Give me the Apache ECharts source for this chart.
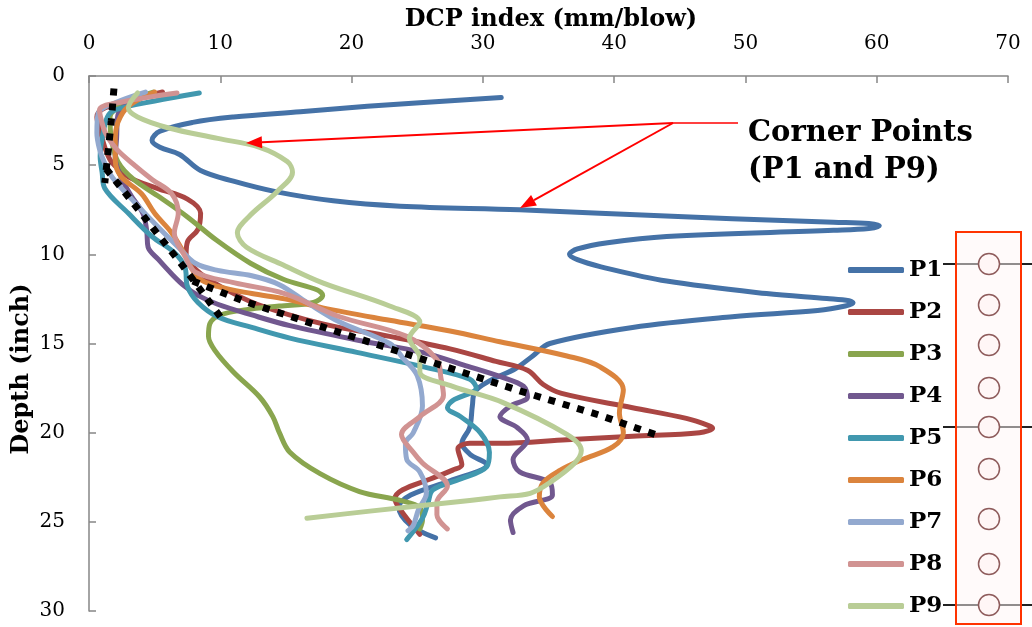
<!DOCTYPE html>
<html><head><meta charset="utf-8">
<script src="https://cdn.jsdelivr.net/npm/echarts@6/dist/echarts.min.js"></script>
<style>html,body{margin:0;padding:0;background:#fff}#c{width:1032px;height:627px}</style>
</head><body><div id="c"></div>
<script>
// ---- data: [DCP index (mm/blow), depth (inch)] ----
const P1 = [[31.4,1.2],[21.2,1.7],[16.1,2.0],[11.0,2.3],[7.9,2.6],[5.4,3.1],[4.8,3.6],[5.4,4.0],[6.9,4.4],[8.5,5.3],[11.0,5.9],[14.3,6.5],[18.6,7.0],[23.7,7.3],[32.8,7.5],[38.9,7.7],[49,8.0],[56.7,8.2],[59.4,8.27],[60.2,8.4],[59.4,8.55],[56.7,8.65],[44,9.0],[39.5,9.35],[37.2,9.7],[36.6,10.0],[37.2,10.3],[39,10.7],[44,11.5],[51.6,12.2],[56.2,12.48],[57.9,12.6],[58.2,12.72],[57.6,12.9],[55.5,13.15],[49,13.5],[41.4,14.1],[35.1,15.0],[33.8,15.7],[32.5,16.4],[30.5,17.1],[29.4,17.7],[29.2,18.5],[29.0,19.7],[28.4,20.6],[29.0,21.2],[30.3,21.8],[27.5,22.7],[24.5,23.5],[23.6,24.2],[24.5,25.2],[26.4,25.9]];
const P2 = [[5.6,0.9],[3.5,1.3],[1.2,1.8],[0.6,2.3],[0.9,3.2],[1.3,4.2],[1.8,4.9],[3.1,5.7],[5.2,6.3],[7.5,6.9],[8.5,7.7],[8.3,8.6],[7.5,9.3],[7.4,10.0],[8.2,10.9],[10.0,11.8],[12.8,12.8],[17.8,13.9],[22.9,14.6],[27.5,15.3],[31.0,16.0],[33.4,16.5],[34.6,17.3],[36.0,17.8],[41.4,18.6],[45.5,19.2],[47.2,19.6],[47.5,19.75],[46.5,20.0],[41.4,20.2],[36.4,20.4],[31.3,20.6],[29.0,20.6],[28.1,20.9],[28.4,21.8],[27.7,22.1],[26.0,22.6],[23.9,23.2],[23.3,23.7],[23.7,24.3],[25.2,25.7]];
const P3 = [[4.9,0.9],[2.8,1.5],[1.6,2.3],[1.7,3.5],[2.2,4.8],[3.4,5.8],[5.4,6.8],[7.5,7.9],[9.7,9.2],[12.3,10.5],[14.8,11.4],[17.4,12.0],[17.8,12.3],[17.1,12.7],[14.5,12.9],[12.0,13.1],[10.0,13.4],[9.2,13.9],[9.1,14.6],[9.6,15.4],[11.0,16.6],[13.0,18.0],[14.0,19.1],[14.5,20.0],[15.3,21.1],[17.6,22.3],[20.6,23.3],[23.7,23.8],[25.2,24.2],[25.4,24.9],[25.2,25.4]];
const P4 = [[4.3,1.0],[3.0,1.5],[2.2,2.2],[2.1,3.5],[2.0,4.6],[2.4,5.6],[3.2,6.7],[4.1,7.7],[4.4,8.7],[4.5,9.6],[5.3,10.3],[6.3,11.1],[7.3,11.8],[8.3,12.3],[9.8,12.8],[12.4,13.4],[15.3,14.0],[20.4,14.8],[25.4,15.5],[28.5,16.2],[31.5,16.9],[33.1,17.4],[33.4,18.0],[32.1,18.5],[31.3,19.1],[32.6,19.7],[33.4,20.4],[32.3,21.5],[32.8,22.2],[35.1,22.8],[35.3,23.5],[33.1,24.1],[32.1,24.9],[32.3,25.6]];
const P5 = [[8.4,0.95],[5.0,1.4],[2.0,1.9],[1.4,2.3],[1.0,3.5],[0.85,4.5],[1.0,5.4],[1.2,6.3],[3.0,7.7],[4.8,9.0],[6.5,9.9],[7.3,10.7],[7.5,11.8],[8.3,12.7],[9.8,13.5],[12.4,14.1],[15.3,14.7],[20.4,15.5],[25.4,16.3],[29.0,17.0],[29.5,17.5],[27.7,18.2],[27.3,18.6],[28.3,19.1],[29.8,20.0],[30.5,21.1],[30.3,21.9],[28.3,22.6],[26.2,23.2],[25.8,24.0],[25.4,24.8],[24.2,26.0]];
const P6 = [[5.0,0.9],[3.0,1.7],[2.2,2.6],[2.0,3.6],[2.0,4.7],[2.4,5.6],[4.0,6.6],[5.0,7.7],[6.3,8.8],[7.3,10.0],[8.3,11.3],[9.8,11.8],[12.4,12.2],[14.9,12.5],[17.8,13.0],[22.9,13.7],[27.5,14.3],[31.3,14.9],[36.4,15.7],[38.9,16.3],[40.7,17.6],[40.4,18.9],[40.7,20.0],[39.9,20.8],[37.6,21.5],[35.9,22.1],[34.6,22.8],[34.3,23.6],[35.3,24.7]];
const P7 = [[4.3,0.9],[2.0,1.5],[0.7,2.1],[0.6,3.2],[0.8,4.1],[1.2,4.9],[1.8,5.7],[3.5,7.1],[5.3,8.5],[6.8,9.6],[8.1,10.5],[9.8,10.9],[12.4,11.2],[14.5,11.7],[16.6,12.7],[19.1,13.8],[22.9,15.0],[23.9,15.8],[25.0,16.8],[25.4,18.5],[24.7,20.0],[24.1,20.6],[24.2,21.5],[25.2,22.2],[25.7,23.4],[25.1,24.3],[24.7,25.2],[24.3,25.5]];
const P8 = [[6.7,0.95],[2.2,1.5],[0.8,1.9],[1.1,2.9],[1.4,3.4],[2.1,4.1],[3.3,4.9],[4.8,5.8],[6.3,6.6],[6.8,7.7],[6.5,8.8],[7.3,10.1],[8.1,11.0],[11.1,11.6],[14.9,12.2],[19.1,13.5],[24.2,14.6],[26.5,15.9],[26.8,16.9],[27.0,17.9],[25.2,19.1],[23.8,20.1],[24.7,21.1],[25.4,21.7],[27.3,23.0],[26.5,23.9],[26.5,24.6],[27.3,25.4]];
const P9 = [[3.7,0.95],[3.0,1.8],[3.7,2.3],[6.0,2.9],[9.8,3.5],[13.0,4.0],[15.1,4.8],[15.5,5.4],[14.3,6.5],[12.3,7.8],[11.3,8.8],[12.0,9.6],[14.8,10.6],[17.8,11.6],[22.9,12.9],[25.2,13.8],[24.4,14.7],[25.2,15.8],[25.2,16.6],[27.7,17.4],[31.5,18.3],[36.4,20.1],[37.5,21.0],[37.0,21.7],[35.1,22.8],[33.6,23.4],[31.3,23.6],[29.0,23.8],[21.4,24.4],[16.6,24.8]];
// dotted trend segments
const TREND_A = [[1.9,0.7],[1.7,2.5],[1.45,4.3],[1.2,6.0]];
const TREND_B = [[1.3,5.2],[2.7,6.5],[4.2,7.9],[5.7,9.3],[7.2,10.7],[8.6,12.1],[10.1,13.6]];
const TREND_C = [[7.9,11.5],[12.1,12.7],[17.9,14.1],[23.8,15.5],[28.4,16.6],[33.0,17.7],[38.8,19.0],[43.5,20.2]];

const NAMES = ['P1','P2','P3','P4','P5','P6','P7','P8','P9'];
const SERIES = [P1,P2,P3,P4,P5,P6,P7,P8,P9];
const COLORS = ['#4572A7','#AA4643','#89A54E','#71588F','#4198AF','#DB843D','#93A9CF','#D19392','#B9CD96'];
const X_MIN = 0, X_MAX = 70, X_STEP = 10;
const Y_MIN = 0, Y_MAX = 30, Y_STEP = 5;

const SERIF = '"DejaVu Serif", "Liberation Serif", serif';
const chart = echarts.init(document.getElementById('c'));

const series = SERIES.map((d, i) => ({
  name: NAMES[i], type: 'line', data: d, smooth: 0.35, showSymbol: false, symbol: 'none',
  lineStyle: { width: 5, color: COLORS[i], cap: 'round', join: 'round' },
  itemStyle: { color: COLORS[i] }, z: 2 + i
}));
[TREND_A, TREND_B, TREND_C].forEach(d => series.push({
  type: 'line', data: d, smooth: false, symbol: 'none', silent: true,
  lineStyle: { width: 7, color: '#000', type: [7, 8], cap: 'butt' }, z: 20
}));

// annotation geometry (pixels)
const J = [673, 123];
function arrow(tip) {
  const dx = tip[0] - J[0], dy = tip[1] - J[1], L = Math.hypot(dx, dy);
  const ux = dx / L, uy = dy / L, nx = -uy, ny = ux, h = 16, w = 6;
  const b = [tip[0] - ux * h, tip[1] - uy * h];
  return [
    { type: 'line', shape: { x1: J[0], y1: J[1], x2: b[0], y2: b[1] }, style: { stroke: '#FF0000', lineWidth: 2 }, z: 100 },
    { type: 'polygon', shape: { points: [tip, [b[0] + nx * w, b[1] + ny * w], [b[0] - nx * w, b[1] - ny * w]] }, style: { fill: '#FF0000' }, z: 100 }
  ];
}
const circleY = [264, 305, 345, 388, 427, 469, 519, 564, 605];
const graphic = [
  { type: 'text', x: 551, y: 20, style: { text: 'DCP index (mm/blow)', font: 'bold 24px ' + SERIF, fill: '#000', align: 'center', verticalAlign: 'middle' } },
  { type: 'text', x: 22, y: 369, rotation: Math.PI / 2, style: { text: 'Depth (inch)', font: 'bold 24px ' + SERIF, fill: '#000', align: 'center', verticalAlign: 'middle' } },
  { type: 'text', x: 748, y: 133, style: { text: 'Corner Points', font: 'bold 29px ' + SERIF, fill: '#000', verticalAlign: 'middle' } },
  { type: 'text', x: 748, y: 170, style: { text: '(P1 and P9)', font: 'bold 29px ' + SERIF, fill: '#000', verticalAlign: 'middle' } },
  { type: 'line', shape: { x1: J[0], y1: J[1], x2: 738, y2: J[1] }, style: { stroke: '#FF0000', lineWidth: 1.5 }, z: 100 },
  ...arrow([246, 143]), ...arrow([520, 208]),
  { type: 'rect', shape: { x: 956, y: 232, width: 65, height: 392 }, style: { fill: 'rgba(255,245,245,0.5)', stroke: '#FF3300', lineWidth: 2 }, z: 50 },
  ...circleY.map(y => ({ type: 'circle', shape: { cx: 989, cy: y, r: 10.5 }, style: { fill: '#FFF6F6', stroke: '#8E5B5B', lineWidth: 1.5 }, z: 51 })),
  ...[264, 427, 605].map(y => ({ type: 'line', shape: { x1: 943, y1: y, x2: 1032, y2: y }, style: { stroke: '#222', lineWidth: 2 }, z: 49 }))
];

chart.setOption({
  animation: false,
  backgroundColor: '#fff',
  grid: { left: 89, top: 76, right: 24, bottom: 16, containLabel: false },
  xAxis: {
    type: 'value', position: 'top', min: X_MIN, max: X_MAX, interval: X_STEP,
    axisLine: { show: true, lineStyle: { color: '#868686', width: 1.5 } },
    axisTick: { show: true, inside: true, length: 7, lineStyle: { color: '#868686', width: 1.5 } },
    axisLabel: { color: '#000', fontSize: 20, fontFamily: SERIF, margin: 22 },
    splitLine: { show: false }
  },
  yAxis: {
    type: 'value', inverse: true, min: Y_MIN, max: Y_MAX, interval: Y_STEP,
    axisLine: { show: true, lineStyle: { color: '#868686', width: 1.5 } },
    axisTick: { show: true, inside: true, length: 7, lineStyle: { color: '#868686', width: 1.5 } },
    axisLabel: { color: '#000', fontSize: 20, fontFamily: SERIF, margin: 24 },
    splitLine: { show: false }
  },
  legend: {
    data: NAMES, orient: 'vertical', left: 848, top: 255, padding: 0, height: 380, icon: 'roundRect',
    itemWidth: 56, itemHeight: 6, itemGap: 12, itemStyle: { borderWidth: 0 },
    textStyle: { fontFamily: SERIF, fontWeight: 'bold', fontSize: 23, color: '#000', lineHeight: 30 }
  },
  series: series,
  graphic: graphic
});
</script></body></html>
